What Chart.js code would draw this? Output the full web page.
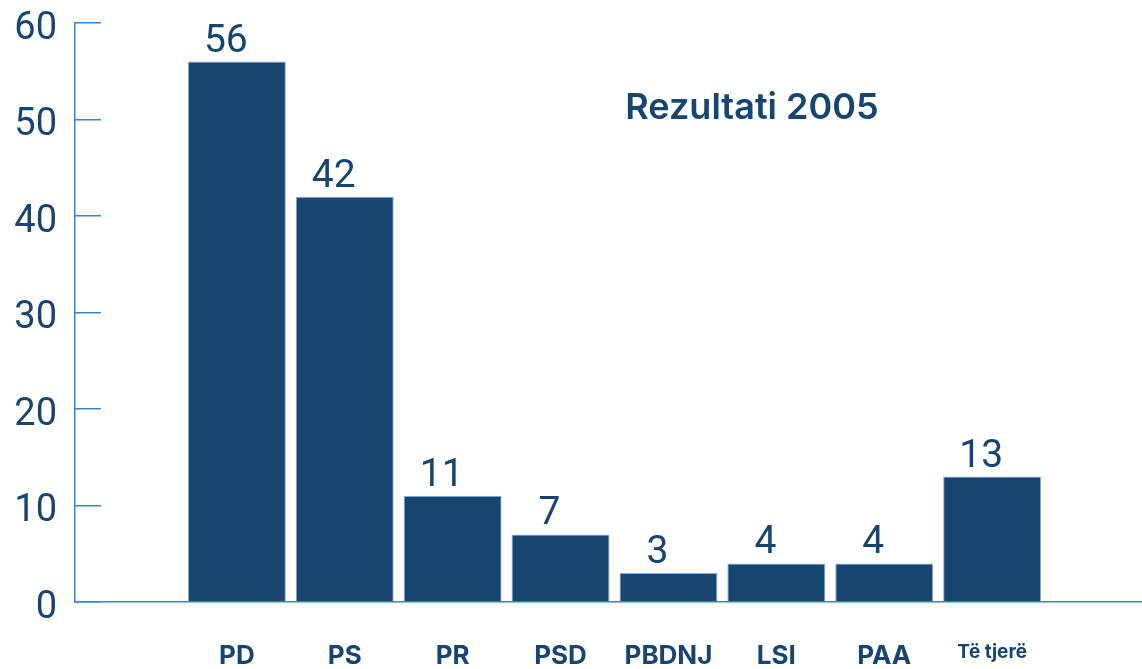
<!DOCTYPE html>
<html>
<head>
<meta charset="utf-8">
<script src="https://cdn.jsdelivr.net/npm/chart.js@4"></script>
<style>
  html, body { margin: 0; padding: 0; background: #fff; overflow: hidden; }
  #wrap { width: 1142px; height: 669px; overflow: hidden; }
</style>
</head>
<body>
<div id="wrap"><canvas id="seats-chart" width="1160" height="669"></canvas></div>
<script>
    // partite dhe mandatet
    var parties = ['PD', 'PS', 'PR', 'PSD', 'PBDNJ', 'LSI', 'PAA', 'Të tjerë'];
    var seats = [56, 42, 11, 7, 3, 4, 4, 13];
    var yTicks = [0, 10, 20, 30, 40, 50, 60];
    var title = 'Rezultati 2005';

    var dark = '#17456f';
    var axisBlue = '#3583d1';
    var fontFam = 'Inter, "Open Sans", sans-serif';
    var numFam = 'Roboto, "Liberation Sans", sans-serif';

    // bosh ne fillim e ne fund per hapesiren
    var labels = [''].concat(parties, ['']);
    var values = [null].concat(seats, [null]);

    var valueLabels = {
        id: 'valueLabels',
        afterDatasetsDraw: function(chart) {
            var ctx = chart.ctx;
            var meta = chart.getDatasetMeta(0);
            ctx.save();
            ctx.fillStyle = dark;
            ctx.font = '39px ' + numFam;
            ctx.textAlign = 'center';
            ctx.textBaseline = 'alphabetic';
            meta.data.forEach(function(bar, i) {
                var v = values[i];
                if (v === null) return;
                ctx.fillText(String(v), bar.x - 11, bar.y - 10);
            });
            // titulli
            ctx.font = '600 36px ' + fontFam;
            ctx.textBaseline = 'alphabetic';
            ctx.fillText(title, 752, 119);
            ctx.restore();
        }
    };

    var ctx = document.getElementById('seats-chart').getContext('2d');
    var chart = new Chart(ctx, {
        type: 'bar',
        data: {
            labels: labels,
            datasets: [{
                label: 'Mandate',
                data: values,
                backgroundColor: dark,
                borderColor: '#7fb3e6',
                borderWidth: 1,
                categoryPercentage: 1,
                barPercentage: 0.908
            }]
        },
        options: {
            responsive: false,
            animation: false,
            layout: { padding: { top: 0, right: 6, left: 0, bottom: 0 } },
            plugins: { legend: { display: false }, tooltip: { enabled: false } },
            scales: {
                x: {
                    grid: { display: false, drawTicks: false },
                    border: { color: axisBlue, width: 1.5 },
                    afterFit: function(s) { s.height = 67; },
                    ticks: {
                        color: dark,
                        padding: 39,
                        maxRotation: 0,
                        autoSkip: false,
                        font: function(c) {
                            var small = c.tick && c.tick.label === 'Të tjerë';
                            return { family: fontFam, size: small ? 19 : 26, weight: 'bold' };
                        }
                    }
                },
                y: {
                    min: 0,
                    max: 60,
                    afterFit: function(s) {
                        s.width = 75;
                        s.paddingTop = 23;
                        s.paddingBottom = 0;
                    },
                    afterBuildTicks: function(s) {
                        s.ticks = yTicks.map(function(v) { return { value: v }; });
                    },
                    grid: { drawOnChartArea: false, drawTicks: true, tickLength: -26, color: axisBlue, lineWidth: 1.5 },
                    border: { color: axisBlue, width: 1.5 },
                    ticks: {
                        color: dark,
                        padding: 44,
                        // rresht bosh qe etiketa te bjere pak poshte vijes
                        callback: function(v) { return ['', String(v)]; },
                        font: { family: numFam, size: 38, lineHeight: '12px' }
                    }
                }
            }
        },
        plugins: [valueLabels]
    });
</script>
</body>
</html>
